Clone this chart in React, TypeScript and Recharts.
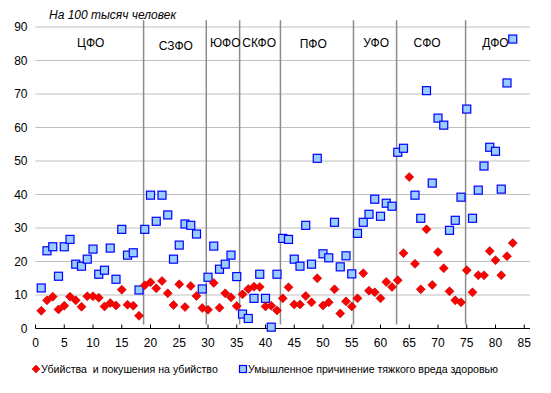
import {
  CartesianGrid,
  Legend,
  ReferenceDot,
  ReferenceLine,
  Scatter,
  ScatterChart,
  XAxis,
  YAxis,
} from 'recharts';

const FONT = '"Liberation Sans", Arial, sans-serif';
const RED = '#FF0000';
const RED_EDGE = '#B00000';
const BLUE_FILL = '#99CCFF';
const BLUE_EDGE = '#0000FF';

// убийства и покушения, на 100 тыс. (регионы 1..83)
const murders = [
  5.3, 8.4, 9.5, 5.7, 6.8, 9.5, 8.4, 6.5, 9.6, 9.6, 9.2, 6.6, 7.6, 6.9, 11.6, 7.1, 6.8, 3.8,
  12.9, 13.8, 12.0, 14.2, 10.5, 7.0, 13.2, 6.4, 12.7, 9.7, 6.1,
  5.6, 13.6, 6.2, 10.5, 9.3, 6.7,
  10.2, 11.8, 12.5, 12.4, 6.6, 6.8, 5.4,
  9.0, 12.3, 7.2, 7.2, 9.7, 7.8, 15.0, 6.9, 7.8, 11.7, 4.5, 8.1, 6.6,
  9.0, 16.5, 11.3, 10.8, 9.0, 13.9, 12.4,
  14.4, 22.5, 45.2, 19.3, 11.7, 29.6, 13.0, 22.8, 18.0, 11.1, 8.4, 7.8,
  17.4, 10.8, 15.9, 15.9, 23.1, 20.4, 15.9, 21.6, 25.5,
];

// тяжкий вред здоровью, на 100 тыс. (65-й регион за пределами шкалы)
const injuries: (number | null)[] = [
  12.1, 23.2, 24.4, 15.6, 24.4, 26.6, 19.2, 18.6, 20.7, 23.7, 16.2, 17.4, 24.0, 14.7, 29.6, 21.9, 22.6, 11.5,
  29.6, 39.8, 32.0, 39.8, 33.9, 20.7, 24.9, 31.2, 30.8, 28.2, 11.8,
  15.3, 24.6, 17.7, 19.2, 21.9, 15.5,
  4.3, 3.0, 9.0, 16.2, 9.0, 0.4, 16.2,
  26.9, 26.6, 20.7, 18.6, 30.8, 19.2, 50.8, 22.3, 21.1, 31.7, 18.4, 21.7, 16.3,
  28.4, 31.7, 34.1, 38.6, 33.5, 37.4, 36.5,
  52.6, 53.8, null, 39.8, 32.9, 71.0, 43.4, 62.8, 60.7, 29.3, 32.3, 39.2,
  65.5, 32.9, 41.3, 48.5, 54.1, 52.9, 41.6, 73.3, 86.4,
];

const districts = ['ЦФО', 'СЗФО', 'ЮФО', 'СКФО', 'ПФО', 'УФО', 'СФО', 'ДФО'];
const districtLabelX = [9.6, 24.4, 33.0, 38.9, 48.3, 59.25, 68.1, 80.0];
const districtLabelY = [85.2, 84.4, 85.2, 85.3, 85.0, 85.2, 85.4, 85.4];
const districtBounds = [18.8, 29.7, 35.5, 42.6, 55.3, 62.8, 74.8];

const xTicks = [0, 5, 10, 15, 20, 25, 30, 35, 40, 45, 50, 55, 60, 65, 70, 75, 80, 85];
const yTicks = [0, 10, 20, 30, 40, 50, 60, 70, 80, 90];

const murderData = murders.map((v, i) => ({ x: i + 1, y: v }));
const injuryData = injuries
  .map((v, i) => ({ x: i + 1, y: v }))
  .filter((d) => d.y !== null);

const Diamond = (props: any) => {
  const { cx, cy } = props;
  if (typeof cx !== 'number' || typeof cy !== 'number') return null;
  const r = 4.5;
  return (
    <polygon
      points={`${cx},${cy - r} ${cx + r},${cy} ${cx},${cy + r} ${cx - r},${cy}`}
      fill={RED}
      stroke={RED_EDGE}
      strokeWidth={0.6}
    />
  );
};

const Square = (props: any) => {
  const { cx, cy } = props;
  if (typeof cx !== 'number' || typeof cy !== 'number') return null;
  return (
    <rect x={cx - 4} y={cy - 4} width={8} height={8} fill={BLUE_FILL} stroke={BLUE_EDGE} strokeWidth={1.2} />
  );
};

const renderLegend = () => (
  <div style={{ position: 'relative', height: 32, fontFamily: FONT, fontSize: 10.6, color: '#000' }}>
    <svg width={10} height={10} style={{ position: 'absolute', left: 31, top: 11 }}>
      <polygon points="5,1 9,5 5,9 1,5" fill={RED} stroke={RED_EDGE} strokeWidth={0.5} />
    </svg>
    <span style={{ position: 'absolute', left: 41, top: 9, whiteSpace: 'pre', lineHeight: '14px' }}>
      Убийства  и покушения на убийство
    </span>
    <svg width={10} height={10} style={{ position: 'absolute', left: 238, top: 11 }}>
      <rect x={1.5} y={1.5} width={7} height={7} fill={BLUE_FILL} stroke={BLUE_EDGE} strokeWidth={1.2} />
    </svg>
    <span style={{ position: 'absolute', left: 248, top: 9, whiteSpace: 'pre', lineHeight: '14px' }}>
      Умышленное причинение тяжкого вреда здоровью
    </span>
  </div>
);

export default function App() {
  return (
    <div style={{ position: 'absolute', left: 0, top: 0, width: 551, height: 393, background: '#fff' }}>
      <div
        style={{
          position: 'absolute',
          left: 49,
          top: 8,
          fontFamily: FONT,
          fontSize: 12,
          fontStyle: 'italic',
          color: '#000',
          whiteSpace: 'nowrap',
        }}
      >
        На 100 тысяч человек
      </div>
      <ScatterChart width={551} height={393} margin={{ top: 27, right: 21, left: 0, bottom: 8 }}>
        <CartesianGrid vertical={false} stroke="#BFBFBF" />
        <XAxis
          type="number"
          dataKey="x"
          domain={[0, 86]}
          ticks={xTicks}
          interval={0}
          height={24.5}
          axisLine={{ stroke: '#000' }}
          tickLine={{ stroke: '#000' }}
          tickSize={-4}
          tickMargin={14}
          tick={{ fill: '#000', fontSize: 12, fontFamily: FONT }}
        />
        <YAxis
          type="number"
          dataKey="y"
          domain={[0, 90]}
          ticks={yTicks}
          interval={0}
          width={35.5}
          axisLine={false}
          tickLine={false}
          tick={{ fill: '#000', fontSize: 12, fontFamily: FONT }}
        />
        {districtBounds.map((b) => (
          <ReferenceLine
            key={b}
            segment={[
              { x: b, y: 1.2 },
              { x: b, y: 92 },
            ]}
            ifOverflow="visible"
            stroke="#8C8C8C"
            strokeWidth={1.5}
          />
        ))}
        {districts.map((name, i) => (
          <ReferenceDot
            key={name}
            x={districtLabelX[i]}
            y={districtLabelY[i]}
            r={0}
            stroke="none"
            fill="none"
            ifOverflow="visible"
            label={{ value: name, position: 'center', fill: '#000', fontSize: 12, fontFamily: FONT }}
          />
        ))}
        <Scatter
          name="Умышленное причинение тяжкого вреда здоровью"
          data={injuryData}
          shape={Square}
          isAnimationActive={false}
        />
        <Scatter
          name="Убийства  и покушения на убийство"
          data={murderData}
          shape={Diamond}
          isAnimationActive={false}
        />
        <Legend verticalAlign="bottom" content={renderLegend} wrapperStyle={{ left: 0, width: 551 }} />
      </ScatterChart>
    </div>
  );
}
